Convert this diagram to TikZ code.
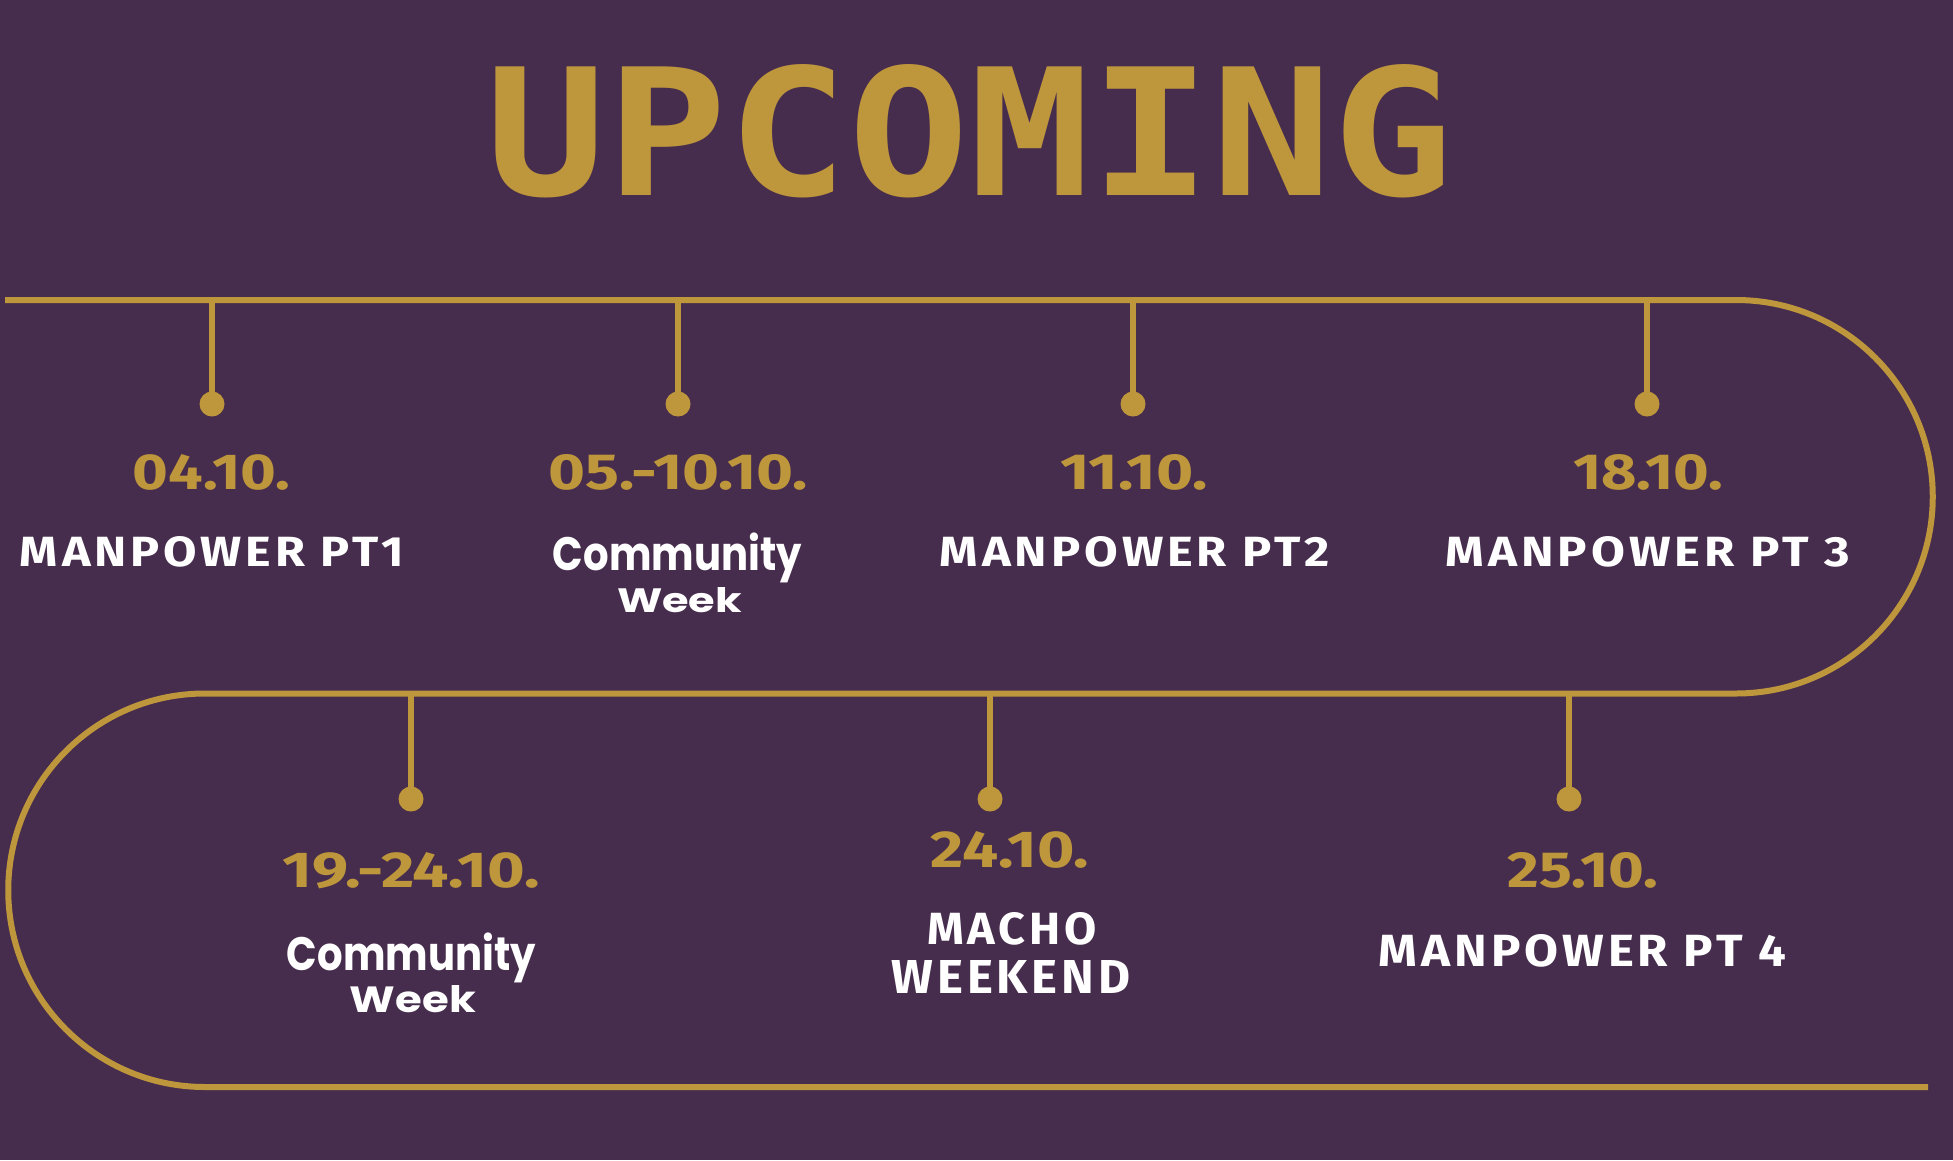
\documentclass[tikz,border=0pt]{standalone}
\usepackage{fontspec}
\setmainfont{Fira Sans}
\newfontfamily\titlefont[LetterSpace=8]{Fira Sans}
\newfontfamily\headfont{DejaVu Sans Mono}
\newfontfamily\handfont{Poppins}
\definecolor{bg}{HTML}{472D4D}
\definecolor{gold}{HTML}{BE963C}
\newcommand{\fitbox}[3]{\resizebox{#1pt}{#2pt}{#3}}
\newcommand{\fitboxt}[3]{\resizebox*{#1pt}{#2pt}{#3}}
\begin{document}
\begin{tikzpicture}[x=1pt,y=1pt,
  track/.style={draw=gold,line width=6pt},
  stem/.style={draw=gold,line width=6pt},
  dot/.style={circle,fill=gold,draw=none,inner sep=0pt,minimum size=25pt},
  datelbl/.style={text=gold,inner sep=0pt,font=\bfseries},
  titlelbl/.style={text=white,inner sep=0pt,font=\titlefont\bfseries},
  handlbl/.style={text=white,inner sep=0pt,font=\handfont\bfseries},
  headlbl/.style={text=gold,inner sep=0pt,font=\headfont\bfseries},
]
\fill[bg] (0,0) rectangle (1953,-1160);
\useasboundingbox (0,0) rectangle (1953,-1160);

% heading
\node[headlbl] (head) at (969.5,-131) {\fitbox{967}{131}{UPCOMING}};

% serpentine track
\coordinate (s0) at (5,-300);
\coordinate (s1) at (1736,-300);
\coordinate (s2) at (205,-693.5);
\coordinate (s3) at (1928,-1087);
\draw[track] (s0) -- (s1) arc[start angle=90,end angle=-90,radius=196.75pt]
  -- (s2) arc[start angle=90,end angle=270,radius=196.75pt] -- (s3);

% top row stems
\foreach \n/\x in {a/212,b/678,c/1133,d/1647}{
  \coordinate (t\n) at (\x,-300);
  \node[dot] (d\n) at (\x,-404) {};
  \draw[stem] (t\n) -- (d\n.center);
}
% bottom row stems
\foreach \n/\x in {e/411,f/990,g/1569}{
  \coordinate (t\n) at (\x,-693.5);
  \node[dot] (d\n) at (\x,-799) {};
  \draw[stem] (t\n) -- (d\n.center);
}

% top row labels
\node[datelbl] (da) at (211.5,-472.5) {\fitbox{157}{35}{04.10.}};
\node[titlelbl] (ea) at (212,-552) {\fitbox{384}{30}{MANPOWER PT1}};

\node[datelbl] (db) at (678.5,-472.5) {\fitbox{259}{35}{05.-10.10.}};
\node[handlbl] (eb1) at (677.5,-558) {\fitboxt{249}{50}{Community}};
\node[handlbl] (eb2) at (679.5,-600.5) {\fitbox{125}{25}{Week}};

\node[datelbl] (dc) at (1134,-472.5) {\fitbox{148}{35}{11.10.}};
\node[titlelbl] (ec) at (1135,-552) {\fitbox{390}{30}{MANPOWER PT2}};

\node[datelbl] (dd) at (1648,-472.5) {\fitbox{150}{35}{18.10.}};
\node[titlelbl] (ed) at (1648,-552) {\fitbox{404}{30}{MANPOWER PT 3}};

% bottom row labels
\node[datelbl] (de) at (411.5,-870.5) {\fitbox{257}{35}{19.-24.10.}};
\node[handlbl] (ee1) at (411.5,-958) {\fitboxt{249}{50}{Community}};
\node[handlbl] (ee2) at (413,-999) {\fitbox{126}{27}{Week}};

\node[datelbl] (df) at (1010,-850) {\fitbox{158}{36}{24.10.}};
\node[titlelbl] (ef1) at (1012,-929) {\fitbox{169}{32}{MACHO}};
\node[titlelbl] (ef2) at (1011,-976.5) {\fitbox{239}{33}{WEEKEND}};

\node[datelbl] (dg) at (1583,-870.5) {\fitbox{151}{35}{25.10.}};
\node[titlelbl] (eg) at (1582.5,-951) {\fitbox{407}{32}{MANPOWER PT 4}};
\end{tikzpicture}
\end{document}
